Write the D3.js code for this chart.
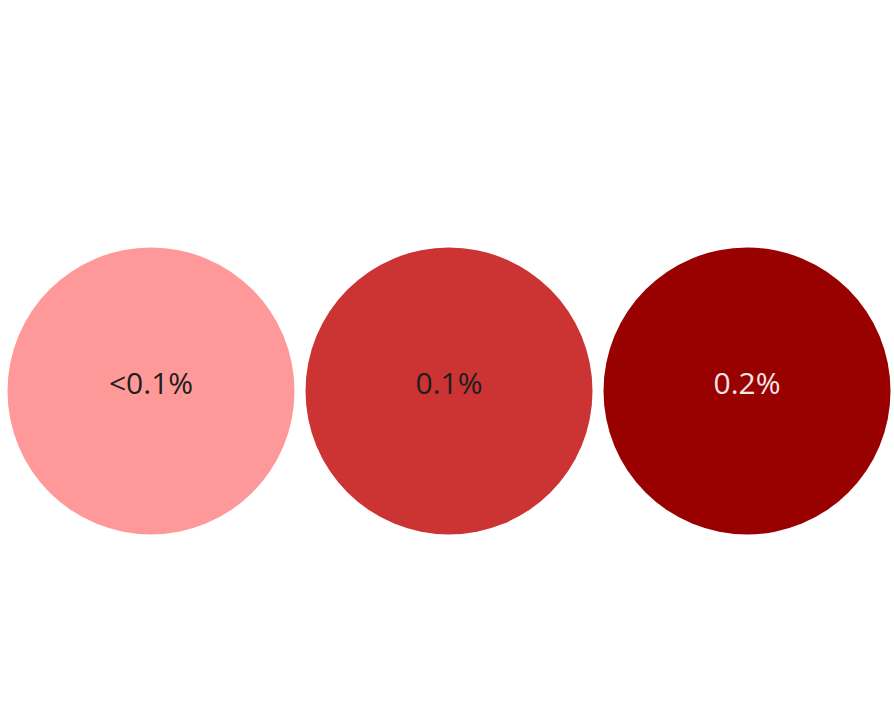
<!DOCTYPE html>
<html>
<head>
<meta charset="utf-8">
<script src="https://cdn.jsdelivr.net/npm/d3@7"></script>
<style>
  html, body { margin: 0; padding: 0; background: #fff; }
  svg { display: block; }
</style>
</head>
<body>
<svg id="chart" width="894" height="714"></svg>
<script>
// three rate buckets, each shown as a same-sized dot
const labels = ["<0.1%", "0.1%", "0.2%"];
const fills = ["#ff9999", "#cc3333", "#990000"];
const textColors = ["#1e1e1e", "#1e1e1e", "#f2e6e6"];

const svg = d3.select("#chart");
const width = 894, height = 714;

const x = d3.scalePoint()
  .domain(labels)
  .range([2, width + 2])
  .padding(0.5);

const cy = 391;
const r = 143.5;

const g = svg.selectAll("g.dot")
  .data(labels)
  .join("g")
  .attr("class", "dot")
  .attr("transform", d => `translate(${x(d)},${cy})`);

g.append("circle")
  .attr("r", r)
  .attr("fill", (d, i) => fills[i]);

g.append("text")
  .attr("y", -9)
  .attr("text-anchor", "middle")
  .attr("dominant-baseline", "central")
  .style("font-family", "'Open Sans', sans-serif")
  .style("font-size", "30px")
  .attr("fill", (d, i) => textColors[i])
  .text(d => d);
</script>
</body>
</html>
